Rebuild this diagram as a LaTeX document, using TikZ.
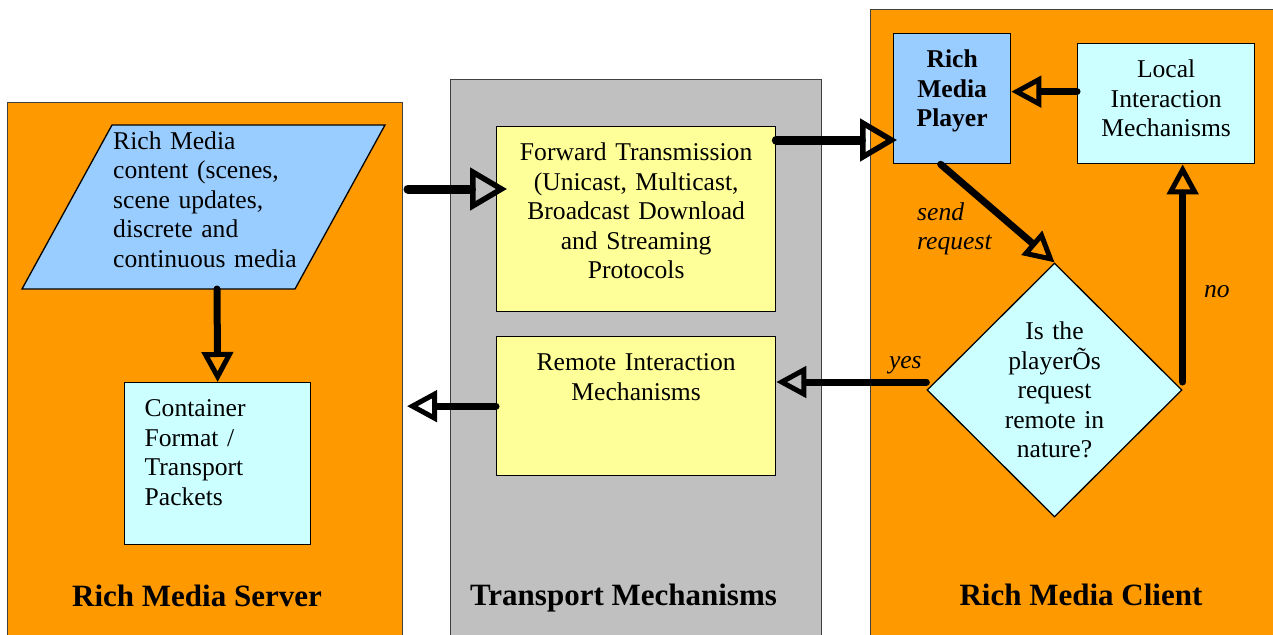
\documentclass[tikz,border=0pt]{standalone}
\usepackage{fontspec}
\setmainfont{Liberation Serif}
\usetikzlibrary{arrows.meta,shapes.geometric}

\definecolor{panelorange}{HTML}{FF9900}
\definecolor{panelgray}{HTML}{C0C0C0}
\definecolor{mediablue}{HTML}{99CCFF}
\definecolor{palecyan}{HTML}{CCFFFF}
\definecolor{paleyellow}{HTML}{FFFF99}

\newcommand{\bodyfont}{\fontsize{25.6}{29.5}\selectfont}
\newcommand{\titlefont}{\fontsize{31}{36}\selectfont\bfseries}

\tikzset{
  panel/.style={draw=black!75, line width=1pt, anchor=north west, inner sep=0pt},
  block/.style 2 args={draw, line width=1.3pt, anchor=north west, inner xsep=0pt, inner ysep=0pt,
    text width=#1, text height=34pt, text depth=#2-34pt, align=center, font=\bodyfont},
  title/.style={font=\titlefont, inner sep=0pt},
  lbl/.style={font=\bodyfont\itshape, inner sep=0pt},
  arr/.style={-{Triangle[open, length=30pt, width=31pt, line width'=5pt]}, line width=7pt, line cap=round},
  bigarr/.style={-{Triangle[open, length=37pt, width=42pt, line width'=5.5pt]}, line width=9pt, line cap=round}
}

\begin{document}
\begin{tikzpicture}[x=1pt, y=-1pt]
  \useasboundingbox (0,0) rectangle (1273,634);
  \clip (0,0) rectangle (1273,634);

  % the three panels
  \node[panel, fill=panelorange, minimum width=395pt, minimum height=560pt] (server) at (7,102) {};
  \node[panel, fill=panelgray, minimum width=371pt, minimum height=580pt] (transport) at (450,79) {};
  \node[panel, fill=panelorange, minimum width=430pt, minimum height=640pt] (client) at (870,9) {};

  \node[title, anchor=base] (server-title) at (197,606) {Rich Media Server};
  \node[title, anchor=base] (transport-title) at (623.5,605) {Transport Mechanisms};
  \node[title, anchor=base] (client-title) at (1081,605) {Rich Media Client};

  % server side
  \draw[line width=1.3pt, fill=mediablue] (112,125) -- (385,125) -- (295,289) -- (22,289) -- cycle;
  \node[anchor=base west, text width=200pt, align=left, inner sep=0pt, font=\bodyfont] (media) at (113,149)
    {Rich Media\\content (scenes,\\scene updates,\\discrete and\\continuous media};
  \coordinate (media-foot) at (217,289);

  \node[block={146pt}{162pt}, inner xsep=20pt, align=left, fill=palecyan] (packets) at (124,382)
    {Container\\Format /\\Transport\\Packets};

  % transport
  \node[block={279pt}{185pt}, fill=paleyellow] (fwd) at (496,126)
    {Forward Transmission\\(Unicast, Multicast,\\Broadcast Download\\and Streaming\\Protocols};
  \node[block={279pt}{139pt}, fill=paleyellow] (remote) at (496,336)
    {Remote Interaction\\Mechanisms};

  % client side
  \node[block={117pt}{130pt}, fill=mediablue, font=\bodyfont\bfseries] (player) at (893,33)
    {Rich\\Media\\Player};
  \node[block={177pt}{120pt}, fill=palecyan] (local) at (1077,43)
    {Local\\Interaction\\Mechanisms};
  \node[draw, line width=1.3pt, diamond, aspect=1, fill=palecyan, minimum width=255pt, minimum height=254pt,
    inner sep=0pt, text width=105pt, align=center, font=\bodyfont] (decide) at (1054.5,390)
    {Is the\\playerÕs\\request\\remote in\\nature?};

  \node[lbl, anchor=base west, text width=90pt, align=left] (send-lbl) at (917,220) {send\\request};

  % connectors
  \coordinate (fwd-in) at ([yshift=-63pt]fwd.north west);
  \coordinate (fwd-out) at ([yshift=-14pt]fwd.north east);
  \coordinate (player-out) at ([xshift=-11.5pt]player.south);
  \coordinate (yes-from) at ([yshift=8pt]decide.west);
  \coordinate (no-from) at ([yshift=8pt]decide.east);
  \coordinate (local-out) at ([yshift=12pt]local.west);

  \draw[bigarr, shorten <=5pt, shorten >=-11pt] (fwd-in -| server.east) -- (fwd-in);
  \draw[bigarr, shorten >=-4pt] (fwd-out) -- (fwd-out -| player.west);
  \draw[arr] (media-foot) -- (packets.north);
  \draw[arr] (player-out) -- (decide.north);
  \draw[arr] (yes-from) -- (yes-from -| remote.east)
    node[lbl, pos=0.14, anchor=base, yshift=14pt] {yes};
  \draw[arr] (no-from) -- (no-from |- local.south)
    node[lbl, pos=0.39, anchor=base west, xshift=18pt] {no};
  \draw[arr] (local-out) -- (local-out -| player.east);
  \draw[arr, shorten >=4pt] (remote.west) -- (remote.west -| server.east);
\end{tikzpicture}
\end{document}
